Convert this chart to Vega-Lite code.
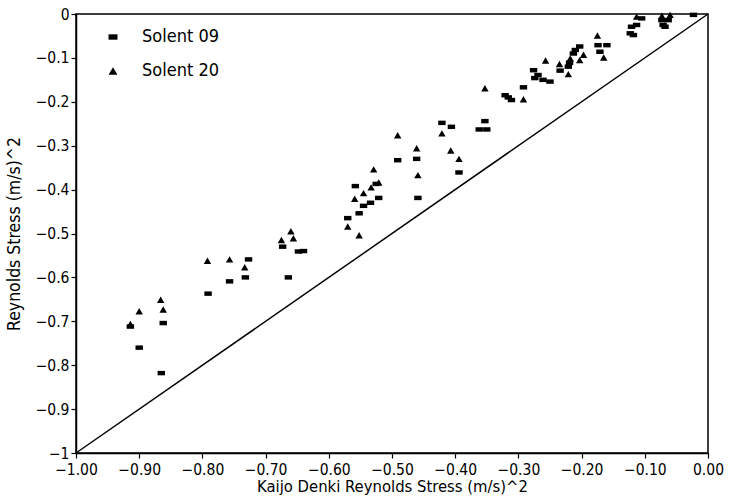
{
  "$schema": "https://vega.github.io/schema/vega-lite/v6.json",
  "width": 632,
  "height": 439,
  "autosize": {"type": "none"},
  "padding": {"left": 76, "top": 14, "right": 22, "bottom": 49},
  "background": "white",
  "config": {
    "font": "DejaVu Sans Condensed, Liberation Sans Narrow, Liberation Sans",
    "view": {"stroke": "black", "strokeWidth": 1.5},
    "axis": {
      "grid": false,
      "domainColor": "black",
      "domainWidth": 1.5,
      "tickColor": "black",
      "tickSize": 5,
      "tickWidth": 1.2,
      "labelColor": "black",
      "labelFontSize": 15.5,
      "titleColor": "black",
      "titleFontWeight": "normal"
    }
  },
  "datasets": {
    "pts": [
      {"kd": -0.914, "rs": -0.712, "series": "Solent 09"},
      {"kd": -0.900, "rs": -0.760, "series": "Solent 09"},
      {"kd": -0.865, "rs": -0.818, "series": "Solent 09"},
      {"kd": -0.862, "rs": -0.704, "series": "Solent 09"},
      {"kd": -0.791, "rs": -0.637, "series": "Solent 09"},
      {"kd": -0.757, "rs": -0.609, "series": "Solent 09"},
      {"kd": -0.732, "rs": -0.600, "series": "Solent 09"},
      {"kd": -0.727, "rs": -0.559, "series": "Solent 09"},
      {"kd": -0.664, "rs": -0.600, "series": "Solent 09"},
      {"kd": -0.673, "rs": -0.530, "series": "Solent 09"},
      {"kd": -0.648, "rs": -0.541, "series": "Solent 09"},
      {"kd": -0.640, "rs": -0.540, "series": "Solent 09"},
      {"kd": -0.570, "rs": -0.465, "series": "Solent 09"},
      {"kd": -0.552, "rs": -0.454, "series": "Solent 09"},
      {"kd": -0.545, "rs": -0.437, "series": "Solent 09"},
      {"kd": -0.534, "rs": -0.430, "series": "Solent 09"},
      {"kd": -0.521, "rs": -0.419, "series": "Solent 09"},
      {"kd": -0.558, "rs": -0.392, "series": "Solent 09"},
      {"kd": -0.525, "rs": -0.387, "series": "Solent 09"},
      {"kd": -0.491, "rs": -0.333, "series": "Solent 09"},
      {"kd": -0.461, "rs": -0.330, "series": "Solent 09"},
      {"kd": -0.459, "rs": -0.419, "series": "Solent 09"},
      {"kd": -0.421, "rs": -0.248, "series": "Solent 09"},
      {"kd": -0.406, "rs": -0.257, "series": "Solent 09"},
      {"kd": -0.394, "rs": -0.361, "series": "Solent 09"},
      {"kd": -0.353, "rs": -0.244, "series": "Solent 09"},
      {"kd": -0.362, "rs": -0.263, "series": "Solent 09"},
      {"kd": -0.350, "rs": -0.263, "series": "Solent 09"},
      {"kd": -0.321, "rs": -0.185, "series": "Solent 09"},
      {"kd": -0.316, "rs": -0.190, "series": "Solent 09"},
      {"kd": -0.311, "rs": -0.196, "series": "Solent 09"},
      {"kd": -0.292, "rs": -0.167, "series": "Solent 09"},
      {"kd": -0.276, "rs": -0.128, "series": "Solent 09"},
      {"kd": -0.274, "rs": -0.146, "series": "Solent 09"},
      {"kd": -0.269, "rs": -0.139, "series": "Solent 09"},
      {"kd": -0.261, "rs": -0.150, "series": "Solent 09"},
      {"kd": -0.250, "rs": -0.154, "series": "Solent 09"},
      {"kd": -0.234, "rs": -0.129, "series": "Solent 09"},
      {"kd": -0.221, "rs": -0.120, "series": "Solent 09"},
      {"kd": -0.219, "rs": -0.111, "series": "Solent 09"},
      {"kd": -0.213, "rs": -0.090, "series": "Solent 09"},
      {"kd": -0.210, "rs": -0.082, "series": "Solent 09"},
      {"kd": -0.203, "rs": -0.074, "series": "Solent 09"},
      {"kd": -0.174, "rs": -0.071, "series": "Solent 09"},
      {"kd": -0.160, "rs": -0.071, "series": "Solent 09"},
      {"kd": -0.171, "rs": -0.086, "series": "Solent 09"},
      {"kd": -0.123, "rs": -0.044, "series": "Solent 09"},
      {"kd": -0.118, "rs": -0.048, "series": "Solent 09"},
      {"kd": -0.121, "rs": -0.029, "series": "Solent 09"},
      {"kd": -0.113, "rs": -0.025, "series": "Solent 09"},
      {"kd": -0.105, "rs": -0.010, "series": "Solent 09"},
      {"kd": -0.073, "rs": -0.014, "series": "Solent 09"},
      {"kd": -0.071, "rs": -0.025, "series": "Solent 09"},
      {"kd": -0.068, "rs": -0.029, "series": "Solent 09"},
      {"kd": -0.063, "rs": -0.014, "series": "Solent 09"},
      {"kd": -0.023, "rs": -0.002, "series": "Solent 09"},
      {"kd": -0.914, "rs": -0.706, "series": "Solent 20"},
      {"kd": -0.900, "rs": -0.677, "series": "Solent 20"},
      {"kd": -0.866, "rs": -0.651, "series": "Solent 20"},
      {"kd": -0.862, "rs": -0.673, "series": "Solent 20"},
      {"kd": -0.792, "rs": -0.562, "series": "Solent 20"},
      {"kd": -0.757, "rs": -0.559, "series": "Solent 20"},
      {"kd": -0.733, "rs": -0.577, "series": "Solent 20"},
      {"kd": -0.660, "rs": -0.495, "series": "Solent 20"},
      {"kd": -0.656, "rs": -0.511, "series": "Solent 20"},
      {"kd": -0.675, "rs": -0.515, "series": "Solent 20"},
      {"kd": -0.570, "rs": -0.484, "series": "Solent 20"},
      {"kd": -0.552, "rs": -0.504, "series": "Solent 20"},
      {"kd": -0.559, "rs": -0.421, "series": "Solent 20"},
      {"kd": -0.545, "rs": -0.408, "series": "Solent 20"},
      {"kd": -0.533, "rs": -0.395, "series": "Solent 20"},
      {"kd": -0.521, "rs": -0.384, "series": "Solent 20"},
      {"kd": -0.529, "rs": -0.354, "series": "Solent 20"},
      {"kd": -0.491, "rs": -0.276, "series": "Solent 20"},
      {"kd": -0.461, "rs": -0.306, "series": "Solent 20"},
      {"kd": -0.459, "rs": -0.367, "series": "Solent 20"},
      {"kd": -0.421, "rs": -0.272, "series": "Solent 20"},
      {"kd": -0.407, "rs": -0.311, "series": "Solent 20"},
      {"kd": -0.394, "rs": -0.330, "series": "Solent 20"},
      {"kd": -0.353, "rs": -0.169, "series": "Solent 20"},
      {"kd": -0.292, "rs": -0.194, "series": "Solent 20"},
      {"kd": -0.257, "rs": -0.106, "series": "Solent 20"},
      {"kd": -0.235, "rs": -0.114, "series": "Solent 20"},
      {"kd": -0.221, "rs": -0.137, "series": "Solent 20"},
      {"kd": -0.218, "rs": -0.101, "series": "Solent 20"},
      {"kd": -0.203, "rs": -0.105, "series": "Solent 20"},
      {"kd": -0.197, "rs": -0.093, "series": "Solent 20"},
      {"kd": -0.175, "rs": -0.049, "series": "Solent 20"},
      {"kd": -0.165, "rs": -0.099, "series": "Solent 20"},
      {"kd": -0.113, "rs": -0.006, "series": "Solent 20"},
      {"kd": -0.073, "rs": -0.004, "series": "Solent 20"},
      {"kd": -0.060, "rs": -0.002, "series": "Solent 20"}
    ],
    "diag": [
      {"kd": -1, "rs": -1},
      {"kd": 0, "rs": 0}
    ]
  },
  "layer": [
    {
      "data": {"name": "diag"},
      "mark": {"type": "line", "color": "black", "strokeWidth": 1.5},
      "encoding": {
        "x": {"field": "kd", "type": "quantitative"},
        "y": {"field": "rs", "type": "quantitative"}
      }
    },
    {
      "data": {"name": "pts"},
      "mark": {"type": "point", "filled": true, "opacity": 1, "size": 55},
      "encoding": {
        "x": {
          "field": "kd", "type": "quantitative",
          "scale": {"domain": [-1, 0], "nice": false, "zero": false},
          "axis": {
            "title": "Kaijo Denki Reynolds Stress (m/s)^2",
            "titleFontSize": 16.5,
            "values": [-1, -0.9, -0.8, -0.7, -0.6, -0.5, -0.4, -0.3, -0.2, -0.1, 0],
            "format": ".2f",
            "labelFlush": false,
            "labelPadding": 4,
            "titlePadding": 1
          }
        },
        "y": {
          "field": "rs", "type": "quantitative",
          "scale": {"domain": [-1, 0], "nice": false, "zero": false},
          "axis": {
            "title": "Reynolds Stress (m/s)^2",
            "titleFontSize": 17.5,
            "values": [-1, -0.9, -0.8, -0.7, -0.6, -0.5, -0.4, -0.3, -0.2, -0.1, 0],
            "format": ".1~f",
            "labelFlush": false,
            "labelPadding": 2,
            "titlePadding": 12
          }
        },
        "shape": {
          "field": "series", "type": "nominal",
          "scale": {"domain": ["Solent 09", "Solent 20"], "range": ["M-1,-0.6H1V0.6H-1Z", "triangle-up"]},
          "legend": {
            "title": null,
            "orient": "none",
            "legendX": 28,
            "legendY": 14,
            "padding": 0,
            "symbolFillColor": "black",
            "symbolStrokeColor": "black",
            "symbolSize": 80,
            "labelFontSize": 18,
            "labelColor": "black",
            "labelOffset": 20,
            "rowPadding": 16
          }
        },
        "color": {"value": "black"}
      }
    }
  ]
}
